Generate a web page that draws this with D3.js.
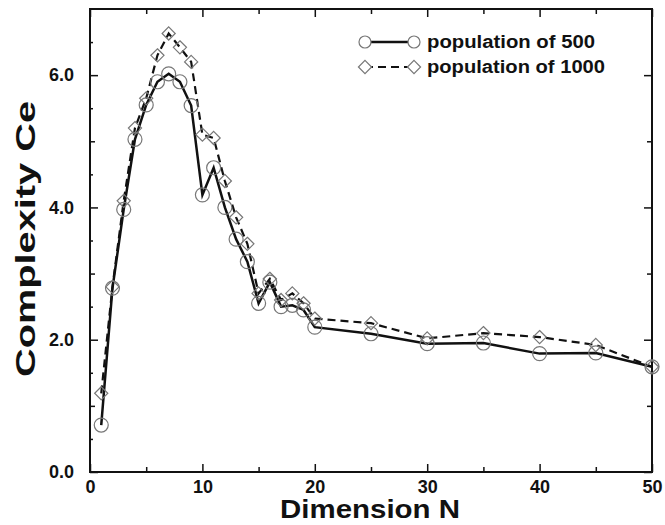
<!DOCTYPE html>
<html>
<head>
<meta charset="utf-8">
<script src="https://cdn.jsdelivr.net/npm/d3@7"></script>
<style>
  body { margin: 0; background: #fff; }
  text { font-family: "Liberation Sans", Arial, Helvetica, sans-serif; font-weight: bold; fill: #111; }
</style>
</head>
<body>
<svg id="chart" width="665" height="525"></svg>
<script>
// DATA
var dims = [1, 2, 3, 4, 5, 6, 7, 8, 9, 10, 11, 12, 13, 14, 15, 16, 17, 18, 19, 20, 25, 30, 35, 40, 45, 50];
var pop500 = [0.71, 2.78, 3.97, 5.03, 5.55, 5.9, 6.02, 5.9, 5.54, 4.19, 4.6, 4.0, 3.52, 3.18, 2.55, 2.87, 2.5, 2.52, 2.45, 2.19, 2.09, 1.94, 1.95, 1.79, 1.8, 1.59];
var pop1000 = [1.19, 2.8, 4.1, 5.2, 5.65, 6.3, 6.63, 6.42, 6.2, 5.1, 5.05, 4.4, 3.85, 3.45, 2.7, 2.92, 2.6, 2.7, 2.55, 2.32, 2.25, 2.02, 2.1, 2.04, 1.92, 1.59];
var xTicks = [0, 10, 20, 30, 40, 50];
var yTicks = [0, 2, 4, 6];
var legendLabels = ["population of 500", "population of 1000"];

// LAYOUT (plot box edges in pixels)
var svg = d3.select("#chart");
var pLeft = 90, pTop = 9, pRight = 652, pBottom = 472;

var x = d3.scaleLinear().domain([0, 50]).range([pLeft, pRight]);
var y = d3.scaleLinear().domain([0, 7]).range([pBottom, pTop]);

var markerColor = "#777";

// AXES (ticks point inward, mirrored on all four sides)
var minorX = d3.range(5, 50, 10);
var minorY = d3.range(1, 7, 2);
var halfY = d3.range(0.5, 7, 1);

svg.append("g").attr("transform", "translate(0," + pBottom + ")")
    .call(d3.axisBottom(x).tickValues(xTicks).tickSize(-8).tickPadding(8).tickFormat(d3.format("d")));
svg.append("g").attr("transform", "translate(0," + pBottom + ")")
    .call(d3.axisBottom(x).tickValues(minorX).tickSize(-5).tickFormat(""));
svg.append("g").attr("transform", "translate(0," + pTop + ")")
    .call(d3.axisTop(x).tickValues(xTicks).tickSize(-8).tickFormat(""));
svg.append("g").attr("transform", "translate(0," + pTop + ")")
    .call(d3.axisTop(x).tickValues(minorX).tickSize(-5).tickFormat(""));

svg.append("g").attr("transform", "translate(" + pLeft + ",0)")
    .call(d3.axisLeft(y).tickValues(yTicks).tickSize(-8).tickPadding(16).tickFormat(d3.format(".1f")));
svg.append("g").attr("transform", "translate(" + pLeft + ",0)")
    .call(d3.axisLeft(y).tickValues(minorY).tickSize(-5).tickFormat(""));
svg.append("g").attr("transform", "translate(" + pLeft + ",0)")
    .call(d3.axisLeft(y).tickValues(halfY).tickSize(-3).tickFormat(""));
svg.append("g").attr("transform", "translate(" + pRight + ",0)")
    .call(d3.axisRight(y).tickValues(yTicks).tickSize(-8).tickFormat(""));
svg.append("g").attr("transform", "translate(" + pRight + ",0)")
    .call(d3.axisRight(y).tickValues(minorY).tickSize(-5).tickFormat(""));

svg.selectAll(".domain").remove();
svg.selectAll(".tick line").attr("stroke", "#111").attr("stroke-width", 1.5);
svg.selectAll(".tick text").attr("font-size", 18).attr("fill", "#111").style("font-weight", "bold");

// FRAME
svg.append("rect")
    .attr("x", pLeft).attr("y", pTop)
    .attr("width", pRight - pLeft).attr("height", pBottom - pTop)
    .attr("fill", "none").attr("stroke", "#111").attr("stroke-width", 2);

// AXIS TITLES (the original face is wider than Liberation, so stretch to its length)
svg.append("text")
    .attr("x", 370).attr("y", 518)
    .attr("text-anchor", "middle").attr("font-size", 25)
    .attr("textLength", 180).attr("lengthAdjust", "spacingAndGlyphs")
    .text("Dimension N");
svg.append("text")
    .attr("transform", "translate(35,239) rotate(-90)")
    .attr("text-anchor", "middle").attr("font-size", 27)
    .attr("textLength", 276).attr("lengthAdjust", "spacingAndGlyphs")
    .text("Complexity Ce");

// LINES
var rows500 = dims.map(function (d, i) { return { x: d, y: pop500[i] }; });
var rows1000 = dims.map(function (d, i) { return { x: d, y: pop1000[i] }; });
var line = d3.line().x(function (d) { return x(d.x); }).y(function (d) { return y(d.y); });

svg.append("path").datum(rows1000).attr("d", line)
    .attr("fill", "none").attr("stroke", "#111").attr("stroke-width", 2.2)
    .attr("stroke-dasharray", "8,5");
svg.append("path").datum(rows500).attr("d", line)
    .attr("fill", "none").attr("stroke", "#111").attr("stroke-width", 2.5);

// MARKERS
var diamond = d3.symbol().type(d3.symbolDiamond2).size(110);
svg.append("g").selectAll("path").data(rows1000).join("path")
    .attr("transform", function (d) { return "translate(" + x(d.x) + "," + y(d.y) + ")"; })
    .attr("d", diamond)
    .attr("fill", "none").attr("stroke", markerColor).attr("stroke-width", 1.2);
svg.append("g").selectAll("circle").data(rows500).join("circle")
    .attr("cx", function (d) { return x(d.x); }).attr("cy", function (d) { return y(d.y); })
    .attr("r", 7)
    .attr("fill", "none").attr("stroke", markerColor).attr("stroke-width", 1.2);

// LEGEND
var lg = svg.append("g");
var lx0 = 365, lx1 = 414, ly = [42, 67];
var legendWidths = [168, 178];
lg.append("line").attr("x1", lx0).attr("x2", lx1).attr("y1", ly[0]).attr("y2", ly[0])
    .attr("stroke", "#111").attr("stroke-width", 2.5);
lg.append("line").attr("x1", lx0).attr("x2", lx1).attr("y1", ly[1]).attr("y2", ly[1])
    .attr("stroke", "#111").attr("stroke-width", 2.2).attr("stroke-dasharray", "8,5");
[lx0, lx1].forEach(function (px) {
    lg.append("circle").attr("cx", px).attr("cy", ly[0]).attr("r", 6)
        .attr("fill", "#fff").attr("stroke", markerColor).attr("stroke-width", 1.2);
    lg.append("path").attr("transform", "translate(" + px + "," + ly[1] + ")").attr("d", diamond)
        .attr("fill", "#fff").attr("stroke", markerColor).attr("stroke-width", 1.2);
});
legendLabels.forEach(function (t, i) {
    lg.append("text").attr("x", 427).attr("y", ly[i] + 6).attr("font-size", 18)
        .attr("textLength", legendWidths[i]).attr("lengthAdjust", "spacingAndGlyphs")
        .text(t);
});
</script>
</body>
</html>
